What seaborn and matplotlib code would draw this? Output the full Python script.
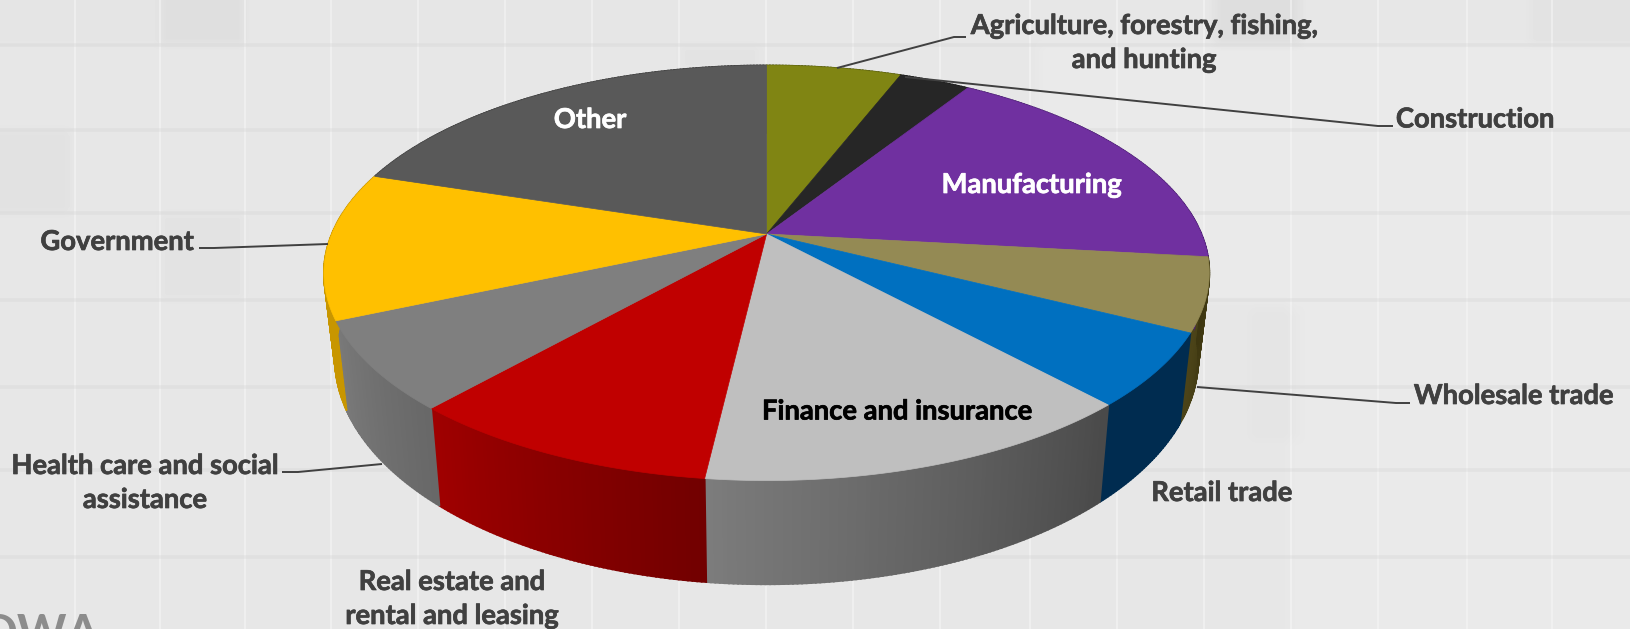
import numpy as np
import matplotlib
matplotlib.use("Agg")
import matplotlib.pyplot as plt
import matplotlib.patheffects as pe
import seaborn as sns

# Share of output by sector, clockwise from twelve o'clock
sectors = ["Agriculture, forestry, fishing,\nand hunting", "Construction", "Manufacturing",
           "Wholesale trade", "Retail trade", "Finance and insurance",
           "Real estate and\nrental and leasing", "Health care and social\nassistance",
           "Government", "Other"]
shares = [5.9, 3.1, 17.8, 5.7, 5.7, 13.7, 9.7, 6.9, 11.5, 20.1]

top_colors = ["#808513", "#262626", "#7030A0", "#948A54", "#0070C0",
              "#BFBFBF", "#C00000", "#7F7F7F", "#FFC000", "#595959"]
wall_left = ["#555a0c", "#191919", "#4a2070", "#4d4519", "#002c50",
             "#7c7c7c", "#a00000", "#7a7a7a", "#c89600", "#3c3c3c"]
wall_right = ["#555a0c", "#191919", "#4a2070", "#3d3610", "#002c50",
              "#4a4a4a", "#720000", "#686868", "#c89600", "#3c3c3c"]

sns.set_theme(style="white")
plt.rcParams["font.family"] = ["Lato", "DejaVu Sans"]

W, H = 1631, 629
fig = plt.figure(figsize=(W / 100, H / 100), dpi=100)
ax = fig.add_axes([0, 0, 1, 1])

# Tiled backdrop: soft grey blocks separated by pale joints
bg = np.full((H, W), 0.905)
tile_shades = [(160, 245, 0, 45, -0.03), (0, 70, 130, 213, -0.02), (1215, 1300, 0, 45, -0.035),
               (160, 245, 213, 300, -0.012), (1250, 1300, 310, 440, -0.01),
               (0, 160, 0, 45, -0.008), (1040, 1631, 45, 300, 0.012), (1290, 1631, 300, 629, 0.01),
               (330, 680, 0, 45, -0.005), (680, 760, 45, 70, -0.012), (1530, 1631, 0, 45, -0.015)]
for x0, x1, y0, y1, d in tile_shades:
    bg[y0:y1, x0:x1] += d
kernel = np.ones(13) / 13
bg = np.apply_along_axis(lambda r: np.convolve(r, kernel, mode="same"), 1, bg)
bg = np.apply_along_axis(lambda c: np.convolve(c, kernel, mode="same"), 0, bg)
bg[:, :7] = bg[:, 7:8]
bg[:, -7:] = bg[:, -8:-7]
bg[:7, :] = bg[7:8, :]
bg[-7:, :] = bg[-8:-7, :]
ax.imshow(bg, cmap="gray", vmin=0, vmax=1, extent=(0, W, H, 0), aspect="auto",
          interpolation="bilinear", zorder=0)
for xj in [75, 160, 245, 331, 418, 505, 592, 679, 766, 853, 940, 1030, 1117, 1204, 1291, 1378, 1467, 1552]:
    ax.plot([xj, xj], [0, H], color="#f6f6f6", lw=1.5, alpha=0.55, zorder=1)
for yj in [45, 130, 213, 300, 387, 470, 557]:
    ax.plot([0, W], [yj, yj], color="#d6d6d6", lw=2.6, alpha=0.38, zorder=1)

# Perspective view of the disc
cx, cy = 766.6, 234.0
a, b, p = 434.8, 200.2, 0.188
wall_sx, wall_sy, wall_drop = 0.975, 1.088, 82.0


def rim(theta):
    x, y = np.sin(theta), np.cos(theta)
    w = 1 + p * y
    return a * x / w, b * y / w


def top_xy(theta):
    u, v = rim(theta)
    return cx + u, cy - v


def base_xy(theta):
    u, v = rim(theta)
    return cx + wall_sx * u, cy - (wall_sy * v - wall_drop)


edges = np.radians(np.concatenate([[0], np.cumsum(shares) / np.sum(shares) * 360]))

# Side wall, shaded from left to right across each sector
for i, (t0, t1) in enumerate(zip(edges[:-1], edges[1:])):
    n = max(int(np.degrees(t1 - t0)), 2) * 2
    ramp = sns.blend_palette([wall_left[i], wall_right[i]], n)
    ts = np.linspace(t1, t0, n + 1)
    for k in range(n):
        s = ts[k:k + 2]
        tx, ty = top_xy(s)
        bx, by = base_xy(s)
        ax.fill(np.r_[tx, bx[::-1]], np.r_[ty, by[::-1]], facecolor=ramp[k],
                edgecolor=ramp[k], lw=1.3, zorder=2 + 0.001 * k)

# Upper face of each sector
for i, (t0, t1) in enumerate(zip(edges[:-1], edges[1:])):
    ts = np.linspace(t0, t1, 120)
    x, y = top_xy(ts)
    ax.fill(np.r_[cx, x], np.r_[cy, y], color=top_colors[i], lw=0.5, zorder=3)

# Leader lines
leaders = {
    0: [(966, 37), (954, 37), (837, 68)],
    1: [(1393, 126), (1378, 126), (905, 77)],
    3: [(1410, 403), (1396, 403), (1197, 387)],
    7: [(282, 472), (298, 472), (382, 464)],
    8: [(199, 248), (214, 248), (328, 244)],
}
for pts in leaders.values():
    ax.plot(*zip(*pts), color="#404040", lw=1.4, zorder=4, solid_capstyle="butt")

# Sector labels
spots = [(1144, 43, "#404040"), (1475, 119.5, "#404040"), (1031.6, 185, "white"),
         (1513.7, 396, "#404040"), (1222, 493, "#404040"), (897, 411.5, "black"),
         (452, 599, "#404040"), (145, 483, "#404040"), (117, 242, "#404040"), (590, 120, "white")]
for name, (tx, ty, col) in zip(sectors, spots):
    ax.text(tx, ty, name, ha="center", va="center", color=col, fontsize=19.7,
            fontweight="bold", linespacing=1.5, zorder=5,
            path_effects=[pe.withStroke(linewidth=0.5, foreground=col)])

# Corner mark, cut off by the lower edge
ax.text(100, 649, "DWA", ha="right", va="baseline", color="#8c8c8c", fontsize=34,
        fontweight="bold", zorder=1.5, clip_on=True)

ax.set_xlim(0, W)
ax.set_ylim(H, 0)
ax.axis("off")
fig.savefig("out.png", dpi=100)
